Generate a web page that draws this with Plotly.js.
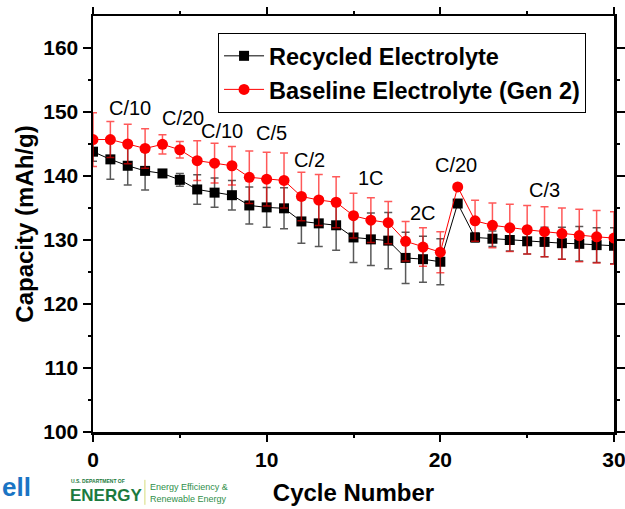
<!DOCTYPE html>
<html><head><meta charset="utf-8">
<script src="https://cdn.plot.ly/plotly-3.0.1.min.js"></script>
<style>html,body{margin:0;padding:0;background:#fff}#chart{width:625px;height:509px}</style>
</head><body><div id="chart"></div>
<script>
const cycles = [0,1,2,3,4,5,6,7,8,9,10,11,12,13,14,15,16,17,18,19,20,21,22,23,24,25,26,27,28,29,30];
const recycled = [143.8,142.6,141.6,140.8,140.4,139.4,137.9,137.4,137.0,135.4,135.1,134.95,132.9,132.6,132.3,130.4,130.1,129.9,127.2,127.0,126.6,135.7,130.4,130.2,130.0,129.8,129.7,129.5,129.4,129.2,129.1];
const recycledErr = [1.5,3.1,3.0,3.0,0.5,1.0,2.3,2.3,2.3,2.9,3.1,3.2,3.4,3.6,3.9,3.9,4.1,4.4,4.0,3.6,3.6,0.3,0.7,1.2,1.7,2.0,2.3,2.5,2.7,2.7,2.8];
const baseline = [145.7,145.7,145.0,144.3,144.95,144.1,142.4,142.0,141.6,139.8,139.5,139.3,136.8,136.25,135.9,133.8,133.1,132.7,129.8,128.9,128.1,138.3,133.0,132.3,131.9,131.6,131.3,131.0,130.7,130.5,130.3];
const baselineErr = [4.2,2.8,3.1,3.1,1.5,1.3,3.1,3.1,3.0,4.1,4.2,4.3,3.8,4.0,4.0,3.5,3.5,3.3,3.1,3.0,3.2,0.5,3.2,3.5,3.7,3.8,3.9,4.0,4.1,4.1,4.1];
const rateLabels = ["C/10","C/20","C/10","C/5","C/2","1C","2C","C/20","C/3"];
const rateX = [2.13,5.17,7.41,10.29,12.47,16.03,19.02,20.92,25.98];
const rateY = [150.6,149.1,147.0,146.7,142.5,139.7,134.2,141.7,137.8];

const F = 'Arial, "Liberation Sans", sans-serif';
const traces = [
  {x: cycles, y: recycled, name: 'Recycled Electrolyte', mode: 'lines+markers',
   line: {color: '#000', width: 1}, marker: {symbol: 'square', size: 10, color: '#000'},
   error_y: {type: 'data', array: recycledErr, visible: true, color: 'rgba(0,0,0,0.65)', thickness: 1.5, width: 4}},
  {x: cycles, y: baseline, name: 'Baseline Electrolyte (Gen 2)', mode: 'lines+markers',
   line: {color: '#ff0000', width: 1}, marker: {symbol: 'circle', size: 11, color: '#ff0000'},
   error_y: {type: 'data', array: baselineErr, visible: true, color: 'rgba(255,0,0,0.65)', thickness: 1.5, width: 4}}
];
const annotations = rateLabels.map((t, i) => ({x: rateX[i], y: rateY[i], xref: 'x', yref: 'y', text: t,
  showarrow: false, font: {family: F, size: 20, color: '#000'}}));
annotations.push(
  {xref: 'paper', yref: 'paper', x: -0.176, y: -0.132, xanchor: 'left', yanchor: 'middle', text: '<b>ell</b>', showarrow: false, font: {family: F, size: 26, color: '#1a74c4'}, borderpad: 0},
  {xref: 'paper', yref: 'paper', x: -0.044, y: -0.118, xanchor: 'left', yanchor: 'middle', text: '<b>U.S. DEPARTMENT OF</b>', showarrow: false, font: {family: F, size: 5, color: '#1b7a3e'}, borderpad: 0},
  {xref: 'paper', yref: 'paper', x: -0.046, y: -0.152, xanchor: 'left', yanchor: 'middle', text: '<b>ENERGY</b>', showarrow: false, font: {family: F, size: 17, color: '#1b7a3e'}, borderpad: 0},
  {xref: 'paper', yref: 'paper', x: 0.106, y: -0.146, xanchor: 'left', yanchor: 'middle', text: 'Energy Efficiency &amp;<br>Renewable Energy', showarrow: false, align: 'left', font: {family: F, size: 9, color: '#2f8f4a'}}
);
const layout = {
  width: 625, height: 509,
  margin: {l: 93, r: 11, t: 16, b: 77, pad: 0},
  paper_bgcolor: '#fff', plot_bgcolor: '#fff',
  font: {family: F, color: '#000'},
  showlegend: true,
  legend: {x: 0.240, y: 0.959, xanchor: 'left', yanchor: 'top', bgcolor: '#fff', bordercolor: '#000', borderwidth: 1,
    font: {family: F, size: 23.5, color: '#000', weight: 'bold'}, tracegroupgap: 0, itemwidth: 40},
  xaxis: {range: [0, 30], tickvals: [0, 10, 20, 30], ticks: 'outside', ticklen: 7, tickwidth: 2, tickcolor: '#000',
    showline: true, linewidth: 2.5, linecolor: '#000', mirror: 'allticks', showgrid: false, zeroline: false,
    ticklabeloverflow: 'allow',
    minor: {tickvals: [5, 15, 25], ticks: 'outside', ticklen: 3, tickwidth: 2, tickcolor: '#000', showgrid: false},
    tickfont: {family: F, size: 21, color: '#000', weight: 'bold'},
    title: {text: '<b>Cycle Number</b>', font: {family: F, size: 24, color: '#000'}, standoff: 15}},
  yaxis: {range: [100, 165], tickvals: [100, 110, 120, 130, 140, 150, 160], ticks: 'outside', ticklen: 8, tickwidth: 2, tickcolor: '#000',
    showline: true, linewidth: 2.5, linecolor: '#000', mirror: 'allticks', showgrid: false, zeroline: false,
    minor: {tickvals: [105, 115, 125, 135, 145, 155], ticks: 'outside', ticklen: 3, tickwidth: 2, tickcolor: '#000', showgrid: false},
    tickfont: {family: F, size: 21, color: '#000', weight: 'bold'},
    title: {text: '<b>Capacity (mAh/g)</b>', font: {family: F, size: 24, color: '#000'}, standoff: 3}},
  shapes: [{type: 'line', xref: 'paper', yref: 'paper', x0: 0.0996, x1: 0.0996, y0: -0.115, y1: -0.175,
    line: {color: '#d6dc7a', width: 1}}],
  annotations: annotations
};
Plotly.newPlot('chart', traces, layout, {displayModeBar: false, staticPlot: true});
</script></body></html>
